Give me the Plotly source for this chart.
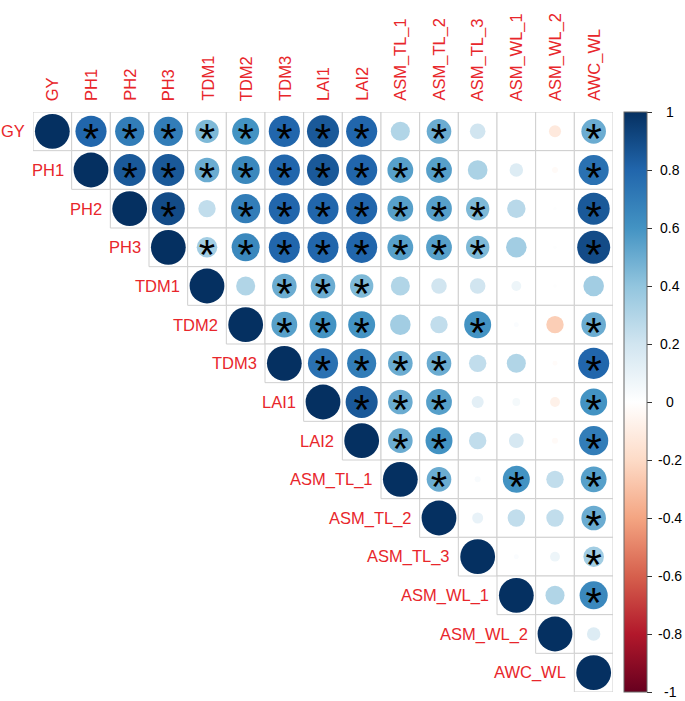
import plotly.graph_objects as go
import numpy as np

variables = ["GY", "PH1", "PH2", "PH3", "TDM1", "TDM2", "TDM3", "LAI1", "LAI2",
             "ASM_TL_1", "ASM_TL_2", "ASM_TL_3", "ASM_WL_1", "ASM_WL_2", "AWC_WL"]

# upper-triangle correlations, row i holds values for columns i+1 .. end
r_GY = [0.80, 0.70, 0.70, 0.45, 0.60, 0.80, 0.85, 0.80, 0.30, 0.50, 0.20, 0.00, -0.12, 0.50]
r_PH1 = [0.85, 0.85, 0.50, 0.65, 0.80, 0.85, 0.80, 0.55, 0.55, 0.32, 0.15, -0.03, 0.75]
r_PH2 = [0.90, 0.25, 0.70, 0.80, 0.80, 0.80, 0.55, 0.55, 0.45, 0.28, 0.01, 0.85]
r_PH3 = [0.35, 0.65, 0.80, 0.80, 0.80, 0.55, 0.55, 0.45, 0.35, 0.01, 0.90]
r_TDM1 = [0.30, 0.50, 0.50, 0.45, 0.30, 0.20, 0.20, 0.08, 0.01, 0.35]
r_TDM2 = [0.55, 0.60, 0.60, 0.35, 0.25, 0.60, 0.02, -0.25, 0.50]
r_TDM3 = [0.75, 0.70, 0.50, 0.50, 0.25, 0.30, -0.02, 0.80]
r_LAI1 = [0.85, 0.50, 0.55, 0.12, 0.05, -0.08, 0.60]
r_LAI2 = [0.50, 0.60, 0.25, 0.18, -0.03, 0.70]
r_ASM_TL_1 = [0.50, 0.03, 0.60, 0.25, 0.55]
r_ASM_TL_2 = [0.10, 0.25, 0.25, 0.50]
r_ASM_TL_3 = [0.02, 0.08, 0.35]
r_ASM_WL_1 = [0.30, 0.65]
r_ASM_WL_2 = [0.15]
r_AWC_WL = []

# significance flags (1 = "*")
s_GY = [1, 1, 1, 1, 1, 1, 1, 1, 0, 1, 0, 0, 0, 1]
s_PH1 = [1, 1, 1, 1, 1, 1, 1, 1, 1, 0, 0, 0, 1]
s_PH2 = [1, 0, 1, 1, 1, 1, 1, 1, 1, 0, 0, 1]
s_PH3 = [1, 1, 1, 1, 1, 1, 1, 1, 0, 0, 1]
s_TDM1 = [0, 1, 1, 1, 0, 0, 0, 0, 0, 0]
s_TDM2 = [1, 1, 1, 0, 0, 1, 0, 0, 1]
s_TDM3 = [1, 1, 1, 1, 0, 0, 0, 1]
s_LAI1 = [1, 1, 1, 0, 0, 0, 1]
s_LAI2 = [1, 1, 0, 0, 0, 1]
s_ASM_TL_1 = [1, 0, 1, 0, 1]
s_ASM_TL_2 = [0, 0, 0, 1]
s_ASM_TL_3 = [0, 0, 1]
s_ASM_WL_1 = [0, 1]
s_ASM_WL_2 = [0]
s_AWC_WL = []

r_rows = [r_GY, r_PH1, r_PH2, r_PH3, r_TDM1, r_TDM2, r_TDM3, r_LAI1, r_LAI2,
          r_ASM_TL_1, r_ASM_TL_2, r_ASM_TL_3, r_ASM_WL_1, r_ASM_WL_2, r_AWC_WL]
s_rows = [s_GY, s_PH1, s_PH2, s_PH3, s_TDM1, s_TDM2, s_TDM3, s_LAI1, s_LAI2,
          s_ASM_TL_1, s_ASM_TL_2, s_ASM_TL_3, s_ASM_WL_1, s_ASM_WL_2, s_AWC_WL]

colorbar_ticks = [1, 0.8, 0.6, 0.4, 0.2, 0, -0.2, -0.4, -0.6, -0.8, -1]
colorbar_labels = ["1", "0.8", "0.6", "0.4", "0.2", "0", "-0.2", "-0.4", "-0.6", "-0.8", "-1"]

col_palette = ["#67001F", "#B2182B", "#D6604D", "#F4A582", "#FDDBC7", "#FFFFFF",
               "#D1E5F0", "#92C5DE", "#4393C3", "#2166AC", "#053061"]
colorscale = [[i / (len(col_palette) - 1), c] for i, c in enumerate(col_palette)]
label_red = "#E8262B"
FONT = "Liberation Sans, Arial, sans-serif"

n = len(variables)
W, H = 685, 701
ml, mt = 33, 112
pw = 580
ph = 580
mr = W - ml - pw
mb = H - mt - ph
cell = pw / n

xs, ys, vals, sizes, hover = [], [], [], [], []
sx, sy = [], []
for i in range(n):
    row_vals = [1.0] + r_rows[i]
    row_sig = [0] + s_rows[i]
    for k, v in enumerate(row_vals):
        j = i + k
        xs.append(j)
        ys.append(i)
        vals.append(v)
        sizes.append(0.9 * cell * np.sqrt(abs(v)))
        hover.append(f"{variables[i]} - {variables[j]}: {v:.2f}")
        if row_sig[k]:
            sx.append(j)
            sy.append(i)

fig = go.Figure()

# grid cells
shapes = []
for i in range(n):
    for j in range(i, n):
        shapes.append(dict(type="rect", xref="x", yref="y",
                           x0=j - 0.5, x1=j + 0.5, y0=i - 0.5, y1=i + 0.5,
                           line=dict(color="#CFCFCF", width=1), fillcolor="white",
                           layer="below"))

fig.add_trace(go.Scatter(
    x=xs, y=ys, mode="markers",
    marker=dict(size=sizes, color=vals, colorscale=colorscale, cmin=-1, cmax=1,
                opacity=1, line=dict(width=0),
                colorbar=dict(
                    thickness=23, len=1, lenmode="fraction", y=0.5, yanchor="middle",
                    ypad=0, x=1 + 11 / pw, xanchor="left", xpad=0,
                    outlinewidth=1, outlinecolor="#666666",
                    tickmode="array", tickvals=colorbar_ticks,
                    ticks="outside", ticklen=5, tickcolor="#333333",
                    showticklabels=False,
                )),
    hovertext=hover, hoverinfo="text", showlegend=False,
))

fig.add_trace(go.Scatter(
    x=sx, y=[v + 0.3 for v in sy], mode="text", text=["*"] * len(sx),
    textposition="middle center",
    textfont=dict(family=FONT, size=42, color="black"),
    hoverinfo="skip", showlegend=False,
))

annotations = []
for j, name in enumerate(variables):
    annotations.append(dict(x=j, y=-0.5, xref="x", yref="y", text=name,
                            textangle=-90, showarrow=False, xanchor="center",
                            yanchor="bottom", yshift=9,
                            font=dict(family=FONT, size=16.5, color=label_red)))
    annotations.append(dict(x=j - 0.5, y=j, xref="x", yref="y", text=name,
                            showarrow=False, xanchor="right", yanchor="middle",
                            xshift=-6,
                            font=dict(family=FONT, size=16.5, color=label_red)))

# colorbar tick labels, centered like the reference
label_x = (670 - ml) / pw
for v, t in zip(colorbar_ticks, colorbar_labels):
    annotations.append(dict(x=label_x, y=(v + 1) / 2, xref="paper",
                            yref="paper", text=t, showarrow=False, xanchor="center",
                            yanchor="middle",
                            font=dict(family=FONT, size=14, color="black")))

fig.update_layout(
    width=W, height=H,
    margin=dict(l=ml, r=mr, t=mt, b=mb),
    plot_bgcolor="white", paper_bgcolor="white",
    xaxis=dict(range=[-0.5, n - 0.5], showgrid=False, zeroline=False,
               showticklabels=False, fixedrange=True),
    yaxis=dict(range=[n - 0.5, -0.5], showgrid=False, zeroline=False,
               showticklabels=False, fixedrange=True),
    shapes=shapes, annotations=annotations,
)

fig.write_html("out.html", config={"displayModeBar": False},
               post_script="document.body.style.margin='0';document.body.style.overflow='hidden';")
